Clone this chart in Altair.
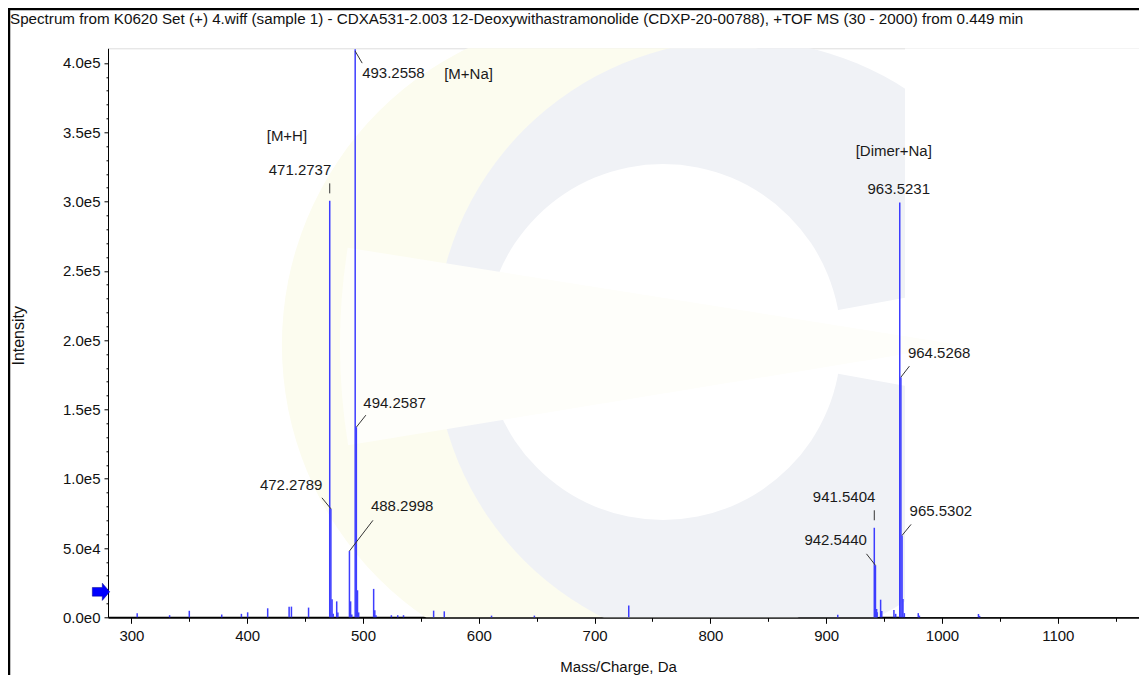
import altair as alt
import pandas as pd

FONT = "Liberation Sans, Arial"
PEAK_BLUE = "#3d3dff"

TITLE = ("Spectrum from K0620 Set (+) 4.wiff (sample 1) - CDXA531-2.003 12-Deoxywithastramonolide "
         "(CDXP-20-00788), +TOF MS (30 - 2000) from 0.449 min")

# ---------------- data ----------------
peak_mz = [305.0, 333.0, 350.0, 378.0, 395.0, 400.4, 417.7, 436.2, 438.2, 453.0,
           471.2737, 472.2789, 473.28, 474.28, 477.3, 478.3,
           488.2998, 489.30, 490.3, 493.2558, 494.2587, 495.26, 496.26,
           509.2, 510.2, 511.2, 524.5, 530.0, 535.0, 561.0, 570.2, 611.0, 648.0,
           729.5, 910.0,
           941.5404, 942.5440, 943.55, 944.0, 947.0, 948.0, 958.5, 960.0,
           963.5231, 964.5268, 965.5302, 966.3, 967.5, 979.5, 980.5, 1031.5, 1032.5]
peak_int = [3000, 1500, 4700, 2000, 2500, 3600, 6500, 7700, 7700, 7000,
            300500, 78300, 13000, 2500, 11500, 3500,
            47800, 11500, 2000, 410000, 137200, 19500, 3500,
            20500, 5000, 1500, 1500, 1500, 1500, 4800, 4300, 1200, 1200,
            8600, 1800,
            64600, 37500, 6000, 3600, 12700, 4500, 5300, 2500,
            299300, 173300, 59100, 13200, 3000, 3000, 1200, 2400, 1000]

label_text = ["493.2558", "[M+Na]", "471.2737", "[M+H]", "494.2587", "472.2789", "488.2998",
              "[Dimer+Na]", "963.5231", "964.5268", "941.5404", "942.5440", "965.5302"]
label_mz = [493.2558, 493.2558, 471.2737, 471.2737, 494.2587, 472.2789, 488.2998,
            963.5231, 963.5231, 964.5268, 941.5404, 942.5440, 965.5302]
label_int = [410000, 410000, 300500, 300500, 137200, 78300, 47800,
             299300, 299300, 173300, 64600, 37500, 59100]

threshold_int = [18400]

x_major = [300, 400, 500, 600, 700, 800, 900, 1000, 1100]
x_minor = [350, 450, 550, 650, 750, 850, 950, 1050, 1150]
y_major = [0, 50000, 100000, 150000, 200000, 250000, 300000, 350000, 400000]
y_minor = [v for v in range(10000, 410000, 10000) if v % 50000 != 0]

# ---------------- styling (pixel offsets of annotations) ----------------
# (align, dx, dy, leader) ; leader = (y_start, x_end, y_end) relative to peak top
label_style = [
    ("left", 7, 24, (2, 7, 14)),
    ("left", 89, 25, None),
    ("right", 1.5, -31, (-7.5, 0, -17.5)),
    ("left", -63, -65, None),
    ("left", 7, -24.5, (0, 9.5, -12)),
    ("right", -8.5, -24, (0, -9, -11)),
    ("left", 21.5, -45, (0, 23.5, -30.7)),
    ("center", -6, -51.5, None),
    ("center", -1, -13.5, None),
    ("left", 7, -24, (0, 8.5, -11)),
    ("right", 1, -30.5, (-7.5, 0, -17.5)),
    ("right", -8.5, -25, (0, -9, -11.5)),
    ("left", 7.5, -24.5, (0, 9, -11)),
]

W, H = 1031, 569
LEFT, TOP = 100, 40.3

peaks = pd.DataFrame({"mz": peak_mz, "intensity": peak_int})
one = pd.DataFrame({"k": [0]})

xs = alt.Scale(domain=[279.8, 279.8 + W / 1.158], nice=False, zero=False)
ys = alt.Scale(domain=[0, 410600], nice=False, zero=True)

x_axis = alt.Axis(values=x_major, orient="bottom", tickSize=6, tickColor="black", tickWidth=1,
                  domainColor="black", domainWidth=2, grid=False, format="d",
                  labelFont=FONT, labelFontSize=15, labelColor="#111111", labelPadding=5,
                  labelFlush=False, labelOverlap=False,
                  title="Mass/Charge, Da", titleFont=FONT, titleFontSize=15,
                  titleFontWeight="normal", titleColor="#111111",
                  titleX=510, titleY=49, titleAlign="center", titleBaseline="middle")
y_axis = alt.Axis(values=y_major, orient="left", tickSize=4, tickColor="black", tickWidth=1,
                  domainColor="black", domainWidth=1, grid=False,
                  labelExpr="replace(format(datum.value, '.1e'), '+', '')",
                  labelFont=FONT, labelFontSize=15, labelColor="#111111", labelPadding=4,
                  labelFlush=False, labelOverlap=False,
                  title="Intensity", titleFont=FONT, titleFontSize=16,
                  titleFontWeight="normal", titleColor="#111111", titleAngle=270,
                  titleX=-90, titleY=287, titleAlign="center", titleBaseline="middle")

x_minor_axis = alt.Axis(values=x_minor, orient="bottom", tickSize=4, tickColor="black",
                        labels=False, domain=False, grid=False, title=None)
y_minor_axis = alt.Axis(values=y_minor, orient="left", tickSize=2, tickColor="black",
                        labels=False, domain=False, grid=False, title=None)

# ---------------- watermark (pale logo) ----------------
def px(x):
    return x - 108


def py(y):
    return y - 48.3


wm = [
    alt.Chart(one).mark_arc(theta=0, theta2=6.2832, innerRadius=0, outerRadius=330,
                            color="#fcfcef", clip=True)
    .encode(x=alt.value(px(612)), y=alt.value(py(345))),
    alt.Chart(one).mark_arc(theta=0, theta2=6.2832, innerRadius=0, outerRadius=305,
                            color="#f0f2f6", clip=True)
    .encode(x=alt.value(px(740)), y=alt.value(py(345))),
    alt.Chart(one).mark_arc(theta=0, theta2=6.2832, innerRadius=0, outerRadius=178,
                            color="white", clip=True)
    .encode(x=alt.value(px(663)), y=alt.value(py(342))),
    alt.Chart(one).mark_arc(theta=1.39, theta2=1.75, innerRadius=0, outerRadius=420,
                            color="white", clip=True)
    .encode(x=alt.value(px(663)), y=alt.value(py(342))),
    alt.Chart(one).mark_rect(color="white", clip=True)
    .encode(x=alt.value(px(905)), x2=alt.value(W), y=alt.value(0), y2=alt.value(H)),
    alt.Chart(one).mark_arc(theta=4.55, theta2=4.87, innerRadius=0, outerRadius=620,
                            color="#fefefa", clip=True)
    .encode(x=alt.value(px(960)), y=alt.value(py(345))),
]

# ---------------- spectrum ----------------
spectrum = alt.Chart(peaks).mark_rule(color=PEAK_BLUE, strokeWidth=1.5).encode(
    x=alt.X("mz:Q", scale=xs, axis=x_axis),
    y=alt.Y("intensity:Q", scale=ys, axis=y_axis),
    y2=alt.datum(0),
)

minor = alt.Chart(peaks).mark_rule(opacity=0).encode(
    x=alt.X("mz:Q", scale=xs, axis=x_minor_axis),
    y=alt.Y("intensity:Q", scale=ys, axis=y_minor_axis),
)

labels_df = pd.DataFrame({"text": label_text, "mz": label_mz, "intensity": label_int})

ann = []
for i, (align, dx, dy, leader) in enumerate(label_style):
    row = labels_df.iloc[[i]]
    ann.append(
        alt.Chart(row).mark_text(align=align, baseline="middle", dx=dx, dy=dy, font=FONT,
                                 fontSize=15, color="#1a1a1a")
        .encode(x=alt.X("mz:Q", scale=xs, axis=None),
                y=alt.Y("intensity:Q", scale=ys, axis=None),
                text="text:N")
    )
    if leader is not None:
        y0, x1, y1 = leader
        ann.append(
            alt.Chart(row).mark_rule(color="#333333", strokeWidth=1, yOffset=y0,
                                     x2Offset=x1, y2Offset=y1)
            .encode(x=alt.X("mz:Q", scale=xs, axis=None),
                    x2="mz:Q",
                    y=alt.Y("intensity:Q", scale=ys, axis=None),
                    y2="intensity:Q")
        )

arrow = alt.Chart(pd.DataFrame({"intensity": threshold_int})).mark_point(
    shape="M-1,-0.5 L0.15,-0.5 L0.15,-1 L1,0 L0.15,1 L0.15,0.5 L-1,0.5 Z",
    size=300, filled=True, color="#0000ff", opacity=1, stroke="#00008b", strokeWidth=0.5,
).encode(x=alt.value(-7), y=alt.Y("intensity:Q", scale=ys, axis=None))

title = alt.Chart(pd.DataFrame({"t": [TITLE]})).mark_text(
    align="left", baseline="middle", font=FONT, fontSize=15.2, color="#111111"
).encode(x=alt.value(px(10)), y=alt.value(py(19)), text="t:N")

frame_top = alt.Chart(one).mark_rule(color="black", strokeWidth=2.5).encode(
    x=alt.value(-LEFT), x2=alt.value(W), y=alt.value(py(9)))
frame_left = alt.Chart(one).mark_rule(color="black", strokeWidth=2.5).encode(
    x=alt.value(-LEFT + 1), y=alt.value(py(9)), y2=alt.value(H + 70))

chart = alt.layer(
    *wm, spectrum, minor, *ann, arrow, title, frame_top, frame_left
).resolve_axis(x="independent", y="independent").properties(
    width=W, height=H,
    padding={"left": LEFT, "top": TOP, "right": 0, "bottom": 58},
    autosize=alt.AutoSizeParams(type="none"),
).configure_view(stroke=None).configure(background="white")

chart.save("out.html", embed_options={"renderer": "svg", "actions": False})
